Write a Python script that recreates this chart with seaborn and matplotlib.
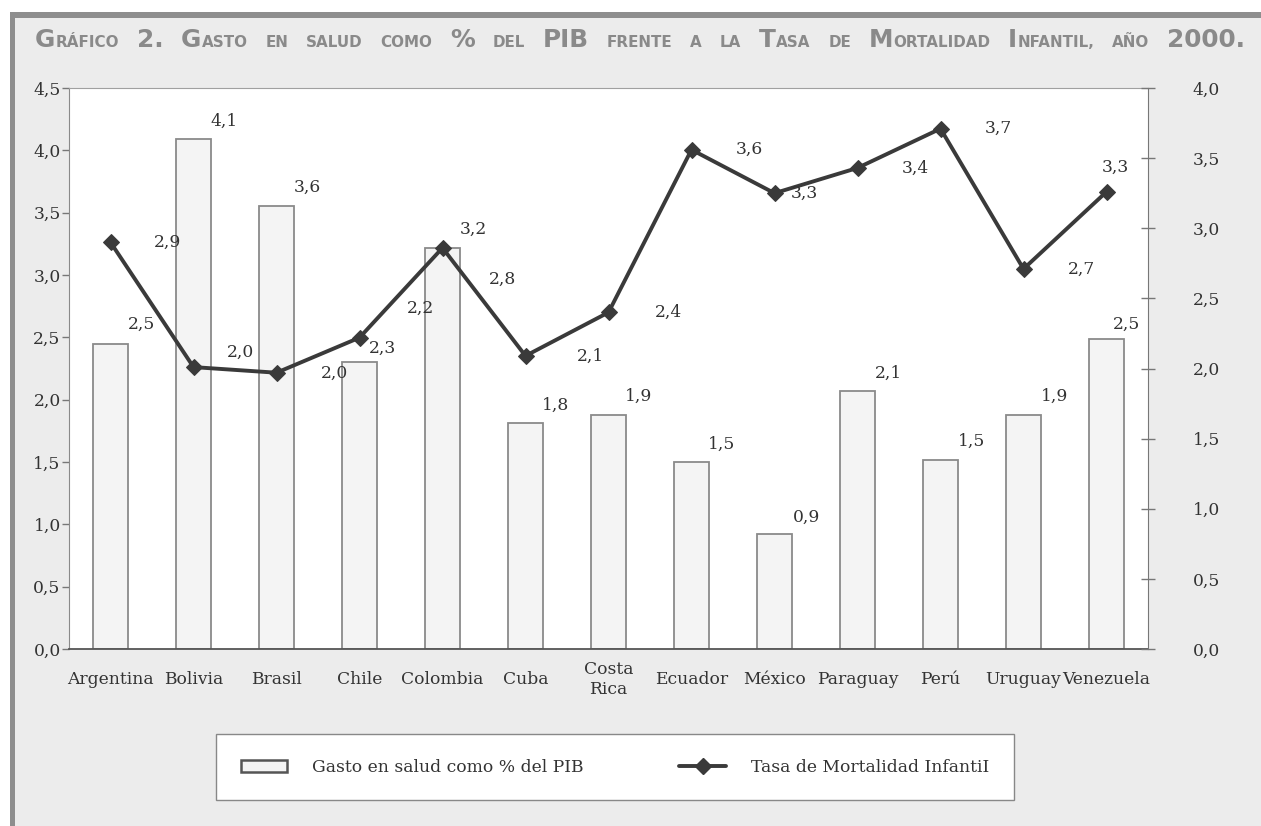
import numpy as np
import pandas as pd
import matplotlib
matplotlib.use("Agg")
import matplotlib.pyplot as plt
import seaborn as sns
from matplotlib.patches import Rectangle, Patch
from matplotlib.lines import Line2D
from matplotlib.ticker import FuncFormatter

# ---------------- data ----------------
paises = ["Argentina", "Bolivia", "Brasil", "Chile", "Colombia", "Cuba", "Costa Rica",
          "Ecuador", "México", "Paraguay", "Perú", "Uruguay", "Venezuela"]
gasto_pib = [2.45, 4.09, 3.55, 2.30, 3.22, 1.81, 1.88, 1.50, 0.92, 2.07, 1.52, 1.88, 2.49]
gasto_labels = ["2,5", "4,1", "3,6", "2,3", "3,2", "1,8", "1,9", "1,5", "0,9", "2,1", "1,5", "1,9", "2,5"]
mortalidad = [2.90, 2.01, 1.97, 2.22, 2.86, 2.09, 2.40, 3.56, 3.25, 3.43, 3.71, 2.71, 3.26]
mortalidad_labels = ["2,9", "2,0", "2,0", "2,2", "2,8", "2,1", "2,4", "3,6", "3,3", "3,4", "3,7", "2,7", "3,3"]
left_ticks = [0.0, 0.5, 1.0, 1.5, 2.0, 2.5, 3.0, 3.5, 4.0, 4.5]
right_ticks = [0.0, 0.5, 1.0, 1.5, 2.0, 2.5, 3.0, 3.5, 4.0]
serie_bar = "Gasto en salud como % del PIB"
serie_line = "Tasa de Mortalidad InfantiI"
title_words = [
    [("G", True), ("RÁFICO", False)], [("2.", True)], [("G", True), ("ASTO", False)],
    [("EN", False)], [("SALUD", False)], [("COMO", False)], [("%", True)], [("DEL", False)],
    [("PIB", True)], [("FRENTE", False)], [("A", False)], [("LA", False)],
    [("T", True), ("ASA", False)], [("DE", False)], [("M", True), ("ORTALIDAD", False)],
    [("I", True), ("NFANTIL,", False)], [("AÑO", False)], [("2000.", True)],
]

# label offsets (pixels, x right / y up)
bar_label_offsets = [(31, 19), (31, 18), (31, 19), (23, 14), (31, 18), (30, 18), (30, 18),
                     (30, 18), (32, 17), (31, 18), (31, 18), (31, 18), (20, 14)]
line_label_offsets = [(57, 0), (47, 15), (58, -1), (61, 29), (60, -31), (65, 0), (60, 0),
                      (58, 0), (30, 0), (58, 0), (58, 0), (58, 0), (9, 24)]

# ---------------- style ----------------
sns.set_style("white")
plt.rcParams["font.family"] = ["DejaVu Serif"]
TXT = "#333333"
FS = 12.3

W, H = 1261, 826
fig = plt.figure(figsize=(W / 100, H / 100), dpi=100, facecolor="white")

# page background / frame
fig.add_artist(Rectangle((10 / W, 0), 1 - 10 / W, (H - 12) / H, transform=fig.transFigure,
                         facecolor="#ececec", edgecolor="none", zorder=-10))
fig.add_artist(Rectangle((10 / W, (H - 18) / H), 1 - 10 / W, 6 / H, transform=fig.transFigure,
                         facecolor="#8e8e8e", edgecolor="none", zorder=-9))
fig.add_artist(Rectangle((10 / W, 0), 5 / W, (H - 12) / H, transform=fig.transFigure,
                         facecolor="#8e8e8e", edgecolor="none", zorder=-9))

ax = fig.add_axes([69 / W, (H - 649) / H, (1148 - 69) / W, (649 - 88) / H])
ax.set_facecolor("white")

df = pd.DataFrame({"pais": paises, "gasto": gasto_pib})
sns.barplot(data=df, x="pais", y="gasto", ax=ax, color="#f4f4f4", saturation=1,
            width=0.41, edgecolor="#8a8a8a", linewidth=1.3, zorder=2)

n = len(paises)
ax.set_ylim(0, 4.5)
ax.set_xlim(-0.5, n - 0.5)
ax.set_yticks(left_ticks)
fmt = FuncFormatter(lambda v, p: f"{v:.1f}".replace(".", ","))
ax.yaxis.set_major_formatter(fmt)
ax.set_xticks(range(n))
ax.set_xticklabels([p.replace(" ", "\n") for p in paises], va="center", linespacing=1.25)
ax.set_xticks(np.arange(0.5, n - 1, 1.0), minor=True)
ax.tick_params(axis="x", which="major", length=0, pad=22, labelsize=FS, labelcolor=TXT)
ax.tick_params(axis="x", which="minor", direction="inout", length=8, width=1, color="#777777")
ax.tick_params(axis="y", direction="out", length=5, width=1, color="#777777", pad=1,
               labelsize=FS, labelcolor=TXT, left=True)
ax.set_xlabel("")
ax.set_ylabel("")
ax.spines["left"].set_color("#8a8a8a")
ax.spines["bottom"].set_color("#555555")
ax.spines["bottom"].set_linewidth(1.3)
ax.spines["top"].set_color("#a0a0a0")
ax.spines["right"].set_visible(False)

for i, (v, lab) in enumerate(zip(gasto_pib, gasto_labels)):
    dx, dy = bar_label_offsets[i]
    ax.annotate(lab, xy=(i, v), xytext=(dx, dy), textcoords="offset pixels",
                ha="center", va="center", fontsize=FS, color=TXT)

ax2 = ax.twinx()
sns.lineplot(x=np.arange(n), y=mortalidad, ax=ax2, color="#3a3a3a", linewidth=2.8,
             marker="D", markersize=8, markeredgecolor="#3a3a3a", zorder=3)
ax2.set_ylim(0, 4.0)
ax2.set_xlim(-0.5, n - 0.5)
ax2.set_yticks(right_ticks)
ax2.yaxis.set_major_formatter(fmt)
ax2.tick_params(axis="y", direction="inout", length=10, width=1, color="#777777", pad=27,
                labelsize=FS, labelcolor=TXT, right=True)
ax2.set_ylabel("")
ax2.set_xlabel("")
for s in ["left", "top", "bottom"]:
    ax2.spines[s].set_visible(False)
ax2.spines["right"].set_color("#777777")

for i, (v, lab) in enumerate(zip(mortalidad, mortalidad_labels)):
    dx, dy = line_label_offsets[i]
    ax2.annotate(lab, xy=(i, v), xytext=(dx, dy), textcoords="offset pixels",
                 ha="center", va="center", fontsize=FS, color=TXT)

# legend
handles = [Patch(facecolor="#f4f4f4", edgecolor="#555555", linewidth=1.8),
           Line2D([], [], color="#3a3a3a", lw=2.8, marker="D", markersize=8)]
leg = fig.legend(handles, [serie_bar, serie_line], loc="center",
                 bbox_to_anchor=(615 / W, (H - 767) / H),
                 ncol=2, frameon=True, fancybox=False, edgecolor="#888888", facecolor="white",
                 framealpha=1, fontsize=FS, handlelength=2.7, handleheight=0.7,
                 handletextpad=1.5, columnspacing=5.6, borderpad=1.45, borderaxespad=0)
for t in leg.get_texts():
    t.set_color(TXT)
leg.get_frame().set_linewidth(1.0)

# title in simulated small caps (wide bold sans)
title_family = ["DejaVu Sans"]
title_color = "#8a8a8a"
renderer = fig.canvas.get_renderer()
X0, X1, BASE = 35.0, 1245.0, H - 47


def draw_title(big, small, gap):
    arts = []
    x = X0
    for word in title_words:
        for s, isbig in word:
            t = fig.text(x / W, BASE / H, s, fontsize=big if isbig else small, weight="bold",
                         family=title_family, color=title_color, va="baseline", ha="left")
            arts.append(t)
            x += t.get_window_extent(renderer).width
        x += gap
    return arts, x - gap - X0


big_fs, small_fs = 17.8, 10.9
arts, width = draw_title(big_fs, small_fs, 0.0)
for a in arts:
    a.remove()
gap = (X1 - X0 - width) / (len(title_words) - 1)
if gap < 6:
    sc = (X1 - X0 - 6 * (len(title_words) - 1)) / width
    big_fs, small_fs, gap = big_fs * sc, small_fs * sc, 6.0
draw_title(big_fs, small_fs, gap)

fig.savefig("out.png", dpi=100)
